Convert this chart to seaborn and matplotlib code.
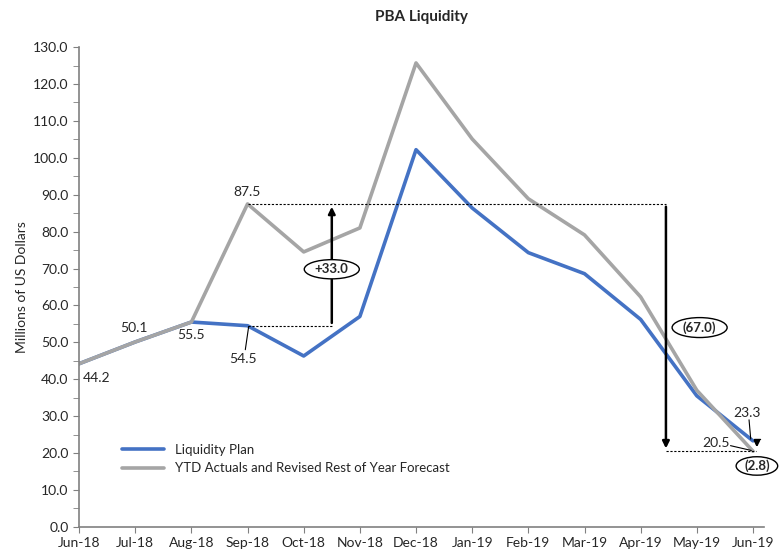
import seaborn as sns
import matplotlib.pyplot as plt
from matplotlib.patches import Ellipse
import pandas as pd

# data
months = ["Jun-18", "Jul-18", "Aug-18", "Sep-18", "Oct-18", "Nov-18", "Dec-18",
          "Jan-19", "Feb-19", "Mar-19", "Apr-19", "May-19", "Jun-19"]
plan = [44.2, 50.1, 55.5, 54.5, 46.3, 57.0, 102.2, 86.4, 74.3, 68.6, 56.2, 35.5, 23.3]
actuals = [44.2, 50.1, 55.5, 87.5, 74.5, 81.0, 125.7, 105.1, 88.9, 79.1, 62.3, 37.0, 20.5]
series_names = ["Liquidity Plan", "YTD Actuals and Revised Rest of Year Forecast"]

df = pd.DataFrame({
    "idx": list(range(len(months))) * 2,
    "value": plan + actuals,
    "series": [series_names[0]] * len(months) + [series_names[1]] * len(months),
})

sns.set_style("white")
plt.rcParams["font.family"] = ["Lato", "DejaVu Sans"]

fig = plt.figure(figsize=(7.83, 5.54), dpi=100)
ax = fig.add_axes([0.101, 0.049, 0.875, 0.866])

blue = "#4472C4"
gray = "#A5A5A5"
# blue first, gray drawn on top (as in the reference)
sns.lineplot(data=df, x="idx", y="value", hue="series", hue_order=series_names,
             palette=[blue, gray], linewidth=2.6, ax=ax, legend=False)

ax.set_xlim(0, 12.2)
ax.set_ylim(0, 130)
ax.set_xticks(range(len(months)))
ax.set_xticklabels(months, fontsize=10)
ax.set_yticks(range(0, 131, 10))
ax.set_yticklabels([f"{v:.1f}" for v in range(0, 131, 10)], fontsize=10)
ax.set_yticks(range(5, 130, 10), minor=True)
ax.tick_params(axis="y", which="both", direction="out", length=4, color="#808080", left=True)
ax.tick_params(axis="x", direction="out", length=4, color="#808080", bottom=True)
ax.set_xlabel("")
ax.set_ylabel("Millions of US Dollars", fontsize=10)
for s in ["top", "right"]:
    ax.spines[s].set_visible(False)
for s in ["left", "bottom"]:
    ax.spines[s].set_color("#808080")
    ax.spines[s].set_linewidth(1.2)

ax.set_title("PBA Liquidity", fontsize=11, fontweight="bold", pad=19)

# legend
handles = [plt.Line2D([], [], color=blue, lw=2.6), plt.Line2D([], [], color=gray, lw=2.6)]
ax.legend(handles, series_names, loc="lower left", bbox_to_anchor=(0.045, 0.085),
          frameon=False, fontsize=9.5, handlelength=3.2, labelspacing=0.5)

# data labels
ax.text(0.32, 40.2, "44.2", fontsize=10, va="center", ha="center")
ax.text(0.97, 53.9, "50.1", fontsize=10, va="center", ha="center")
ax.text(1.99, 52.0, "55.5", fontsize=10, va="center", ha="center")
ax.text(3.0, 90.7, "87.5", fontsize=10, va="center", ha="center")
ax.text(2.92, 45.5, "54.5", fontsize=10, va="center", ha="center")
ax.plot([3.02, 2.96], [54.3, 48.0], color="black", lw=0.8)
ax.text(11.89, 30.9, "23.3", fontsize=10, va="center", ha="center")
ax.plot([11.93, 11.96], [29.0, 23.8], color="black", lw=0.8)
ax.text(11.35, 22.8, "20.5", fontsize=10, va="center", ha="center")
ax.plot([11.6, 11.97], [22.0, 20.7], color="black", lw=0.8)

# +33.0 bracket
x_up = 4.5
ax.plot([3, x_up], [plan[3], plan[3]], ls=(0, (2, 1.5)), color="black", lw=0.8)
ax.plot([3, 10.45], [actuals[3], actuals[3]], ls=(0, (2, 1.5)), color="black", lw=0.8)
ax.annotate("", xy=(x_up, actuals[3]), xytext=(x_up, plan[3]),
            arrowprops=dict(arrowstyle="-|>", color="black", lw=1.8, mutation_scale=10))
ax.add_patch(Ellipse((x_up, 69.8), 0.98, 5.2, facecolor="white", edgecolor="black", lw=1, zorder=5))
ax.text(x_up, 69.8, "+33.0", fontsize=9.5, fontweight="bold", ha="center", va="center", zorder=6)

# (67.0) drop
x_dn = 10.45
ax.annotate("", xy=(x_dn, actuals[-1]), xytext=(x_dn, actuals[3]),
            arrowprops=dict(arrowstyle="-|>", color="black", lw=1.8, mutation_scale=10))
ax.plot([x_dn, 12.05], [actuals[-1], actuals[-1]], ls=(0, (2, 1.5)), color="black", lw=0.8)
ax.add_patch(Ellipse((11.05, 54.0), 0.98, 5.4, facecolor="white", edgecolor="black", lw=1, zorder=5))
ax.text(11.05, 54.0, "(67.0)", fontsize=9.5, fontweight="bold", ha="center", va="center", zorder=6)

# (2.8) gap
ax.annotate("", xy=(12.07, actuals[-1] + 0.3), xytext=(12.07, plan[-1] + 0.4),
            arrowprops=dict(arrowstyle="-|>", color="black", lw=1.5, mutation_scale=8))
ax.plot([12.02, 12.12], [plan[-1] + 0.4, plan[-1] + 0.4], color="black", lw=1)
ax.add_patch(Ellipse((12.07, 16.5), 0.74, 5.0, facecolor="white", edgecolor="black", lw=1,
                     zorder=5, clip_on=False))
ax.text(12.07, 16.5, "(2.8)", fontsize=9.5, fontweight="bold", ha="center", va="center", zorder=6)

fig.savefig("out.png", dpi=100)
